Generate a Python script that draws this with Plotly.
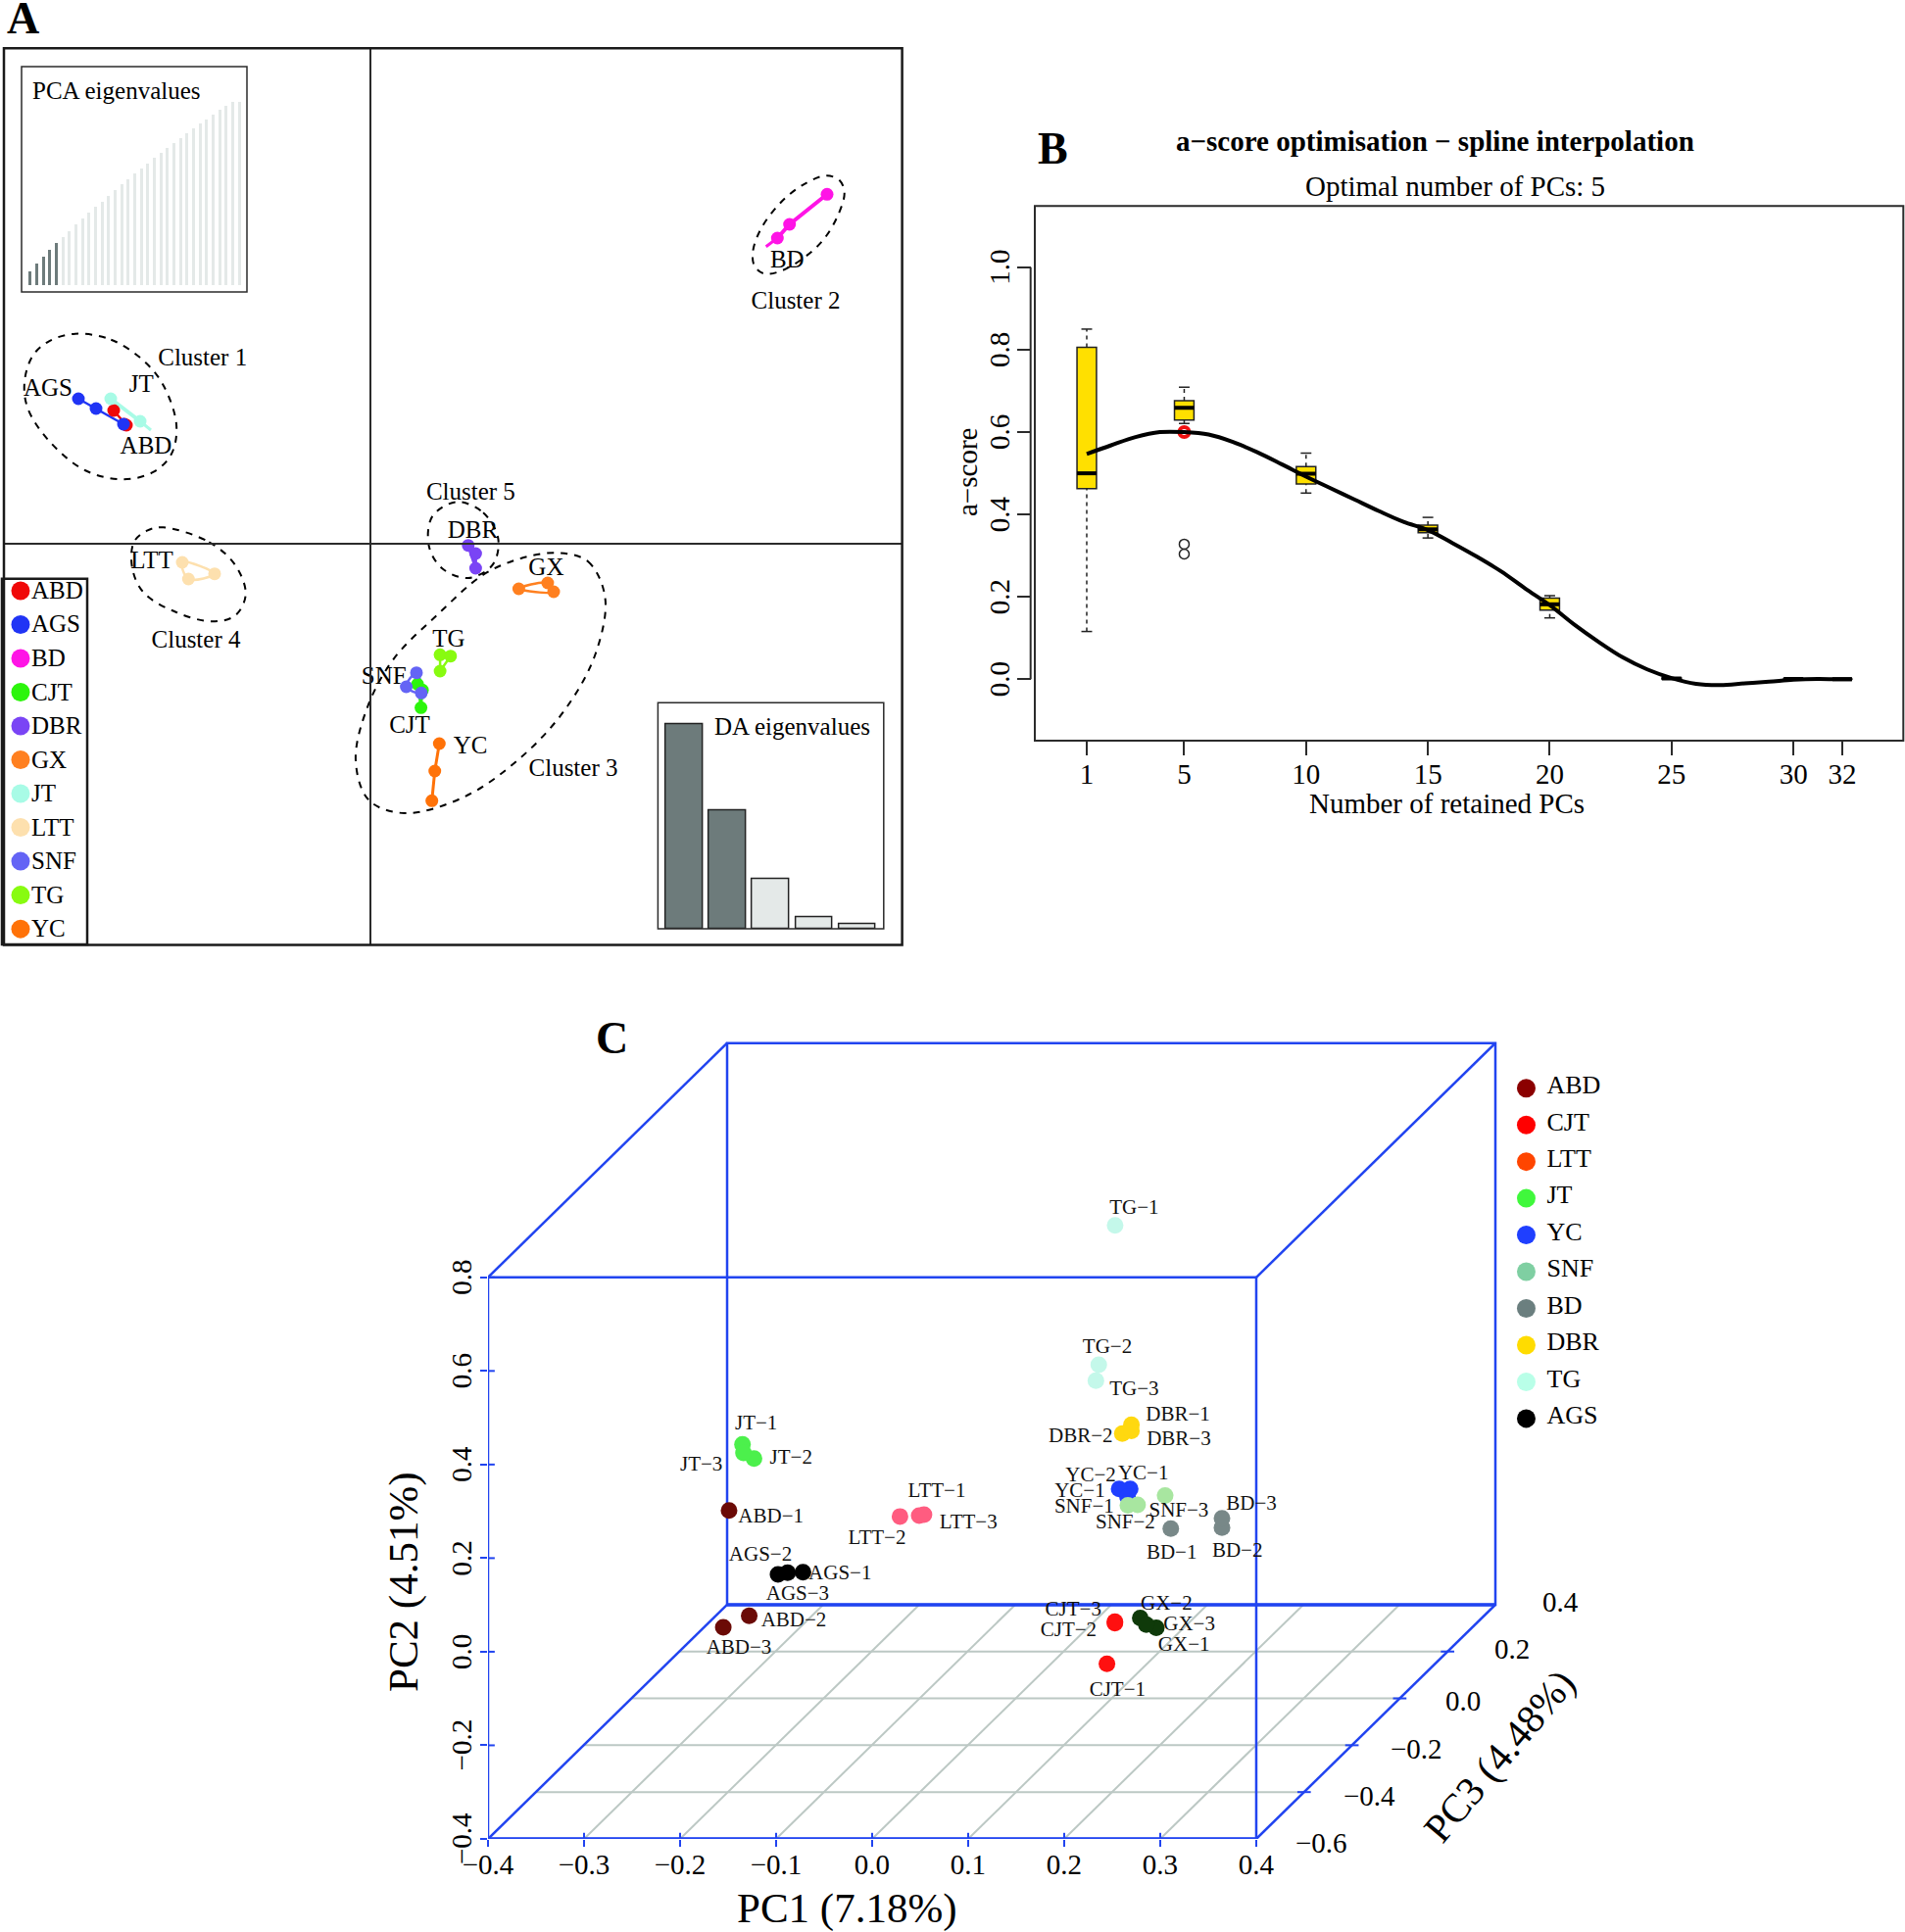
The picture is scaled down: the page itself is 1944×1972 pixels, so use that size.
import plotly.graph_objects as go

W, H = 1944, 1972
SERIF = "Liberation Serif"
BLUE = "#2144f0"
GRID = "#bcc8c4"
DARK = "#2b2b2b"

# ---------- Panel A: DAPC scatter ----------
a_groups = ["ABD", "AGS", "BD", "CJT", "DBR", "GX", "JT", "LTT", "SNF", "TG", "YC"]
a_colors = ["#f00808", "#2034f5", "#ff14e6", "#2cf50c", "#7a44f5", "#ff8020",
            "#a8fbe6", "#fde0ae", "#6464f5", "#88fb10", "#ff7208"]
abd_x = [-26.2, -24.9, -25.1]; abd_y = [13.6, 12.1, 12.2]
ags_x = [-29.8, -28.0, -25.2]; ags_y = [14.8, 13.8, 12.2]
bd_x = [46.6, 42.77, 41.53]; bd_y = [35.67, 32.6, 31.2]
cjt_x = [4.81, 5.31, 5.16]; cjt_y = [-14.33, -14.93, -16.73]
dbr_x = [9.98, 10.74, 10.74]; dbr_y = [-0.17, -1.0, -2.5]
gx_x = [15.14, 18.09, 18.7]; gx_y = [-4.6, -4.0, -4.9]
jt_x = [-26.5, -23.5]; jt_y = [14.8, 12.5]
ltt_x = [-19.2, -15.9, -18.57]; ltt_y = [-1.9, -3.07, -3.6]
snf_x = [4.7, 3.66, 5.19]; snf_y = [-13.17, -14.6, -15.23]
tg_x = [7.11, 8.18, 7.11]; tg_y = [-11.33, -11.47, -13.0]
yc_x = [7.03, 6.57, 6.27]; yc_y = [-20.4, -23.2, -26.23]
a_pts = [(abd_x, abd_y), (ags_x, ags_y), (bd_x, bd_y), (cjt_x, cjt_y), (dbr_x, dbr_y), (gx_x, gx_y),
         (jt_x, jt_y), (ltt_x, ltt_y), (snf_x, snf_y), (tg_x, tg_y), (yc_x, yc_y)]
a_line_w = {"BD": 4, "JT": 4, "YC": 3, "DBR": 3}
jt_tail_x = [-23.5, -22.4]; jt_tail_y = [12.5, 11.6]
bd_tail_x = [41.53, 40.37]; bd_tail_y = [31.2, 30.33]

c1_x = [-30.13, -26.47, -23.13, -21.13, -19.8, -20.3, -22.13, -25.3, -29.13, -32.8, -34.97, -35.3, -34.47, -32.8, -30.13]
c1_y = [21.43, 20.83, 18.67, 16.17, 12.17, 9.17, 7.33, 6.57, 7.5, 10.5, 13.83, 16.5, 19.17, 20.67, 21.43]
c2_x = [46.53, 47.87, 48.37, 47.7, 46.2, 44.2, 41.87, 40.2, 39.2, 39.03, 39.87, 41.87, 44.2, 46.53]
c2_y = [37.57, 37.1, 35.83, 33.5, 31, 29.17, 27.83, 27.57, 28.33, 29.83, 32.17, 34.83, 36.67, 37.57]
c3_x = [19.16, 22.22, 23.95, 22.99, 19.93, 15.34, 9.59, 3.47, -0.16, -1.5, -0.36, 2.32, 6.92, 11.51, 15.34, 19.16]
c3_y = [-0.93, -1.83, -5.5, -11.17, -16.83, -21.83, -25.83, -27.5, -26.17, -22.17, -16.83, -11.83, -7.17, -3.17, -1.5, -0.93]
c4_x = [-21.13, -16.47, -13.8, -12.73, -13.8, -16.13, -19.8, -23.13, -24.3, -24.13, -22.8, -21.13]
c4_y = [1.67, 0.17, -2.17, -5.17, -7.33, -7.93, -7, -5, -2.5, 0.17, 1.33, 1.67]
c5_x = [8.83, 11.51, 13.04, 12.46, 9.98, 7.3, 5.96, 6.34, 8.83]
c5_y = [4.27, 3.17, 0.5, -2.17, -3.5, -2.5, -0.17, 2.83, 4.27]

a_text = ["Cluster 1", "AGS", "JT", "ABD", "Cluster 2", "BD", "Cluster 5", "DBR", "GX", "TG", "SNF", "CJT", "YC",
          "Cluster 3", "LTT", "Cluster 4"]
a_text_x = [-17.13, -32.9, -23.37, -22.9, 43.4, 42.53, 10.24, 10.44, 17.94, 7.99, 1.37, 4.0, 10.2, 20.7, -22.3, -17.8]
a_text_y = [18.85, 15.75, 16.08, 9.82, 24.65, 28.85, 5.15, 1.25, -2.58, -9.92, -13.68, -18.65, -20.75, -23.08, -1.92, -9.98]

pca_eigen = [7.1, 11.4, 15.5, 19.1, 22.7, 25.9, 29.5, 32.9, 36.1, 39.3, 42.5, 45.5, 48.6, 51.8, 54.8, 57.9, 60.7,
             63.6, 66.4, 69.3, 72.1, 75, 77.7, 80.4, 83, 85.5, 88.2, 90.5, 93, 95.5, 98, 100, 100]
pca_retained = 5
da_eigen = [62.7, 36.3, 15.3, 3.5, 1.5]
da_retained = 2
BAR_DARK = "#6d7b7b"
BAR_LIGHT = "#e4e9e8"

# ---------- Panel B: a-score ----------
box_x = [1, 5, 10, 15, 20, 25, 30, 32]
box_low = [0.116, 0.621, 0.452, 0.343, 0.149, 0.0, 0.0, 0.0]
box_q1 = [0.463, 0.629, 0.474, 0.356, 0.168, 0.001, 0.0, 0.0]
box_med = [0.50, 0.659, 0.499, 0.364, 0.182, 0.002, 0.001, 0.0]
box_q3 = [0.806, 0.676, 0.516, 0.374, 0.197, 0.003, 0.002, 0.001]
box_up = [0.85, 0.709, 0.549, 0.393, 0.203, 0.004, 0.002, 0.001]
out_x = [5, 5]
out_y = [0.328, 0.304]
spline_x = [1, 2, 3, 4, 5, 6, 7, 8, 9, 10, 11, 12, 13, 14, 15, 16, 17, 18, 19, 20, 21, 22, 23, 24, 25, 26, 27, 28, 29,
            30, 31, 32, 32.4]
spline_y = [0.547, 0.568, 0.588, 0.60, 0.60, 0.594, 0.576, 0.551, 0.522, 0.492, 0.464, 0.436, 0.408, 0.382, 0.362,
            0.331, 0.298, 0.262, 0.220, 0.180, 0.133, 0.091, 0.053, 0.024, 0.003, -0.011, -0.014, -0.010, -0.006,
            -0.001, 0.001, 0.0, 0.0]
best_x = [5]; best_y = [0.60]
b_xticks = [1, 5, 10, 15, 20, 25, 30, 32]
b_yticks = [0.0, 0.2, 0.4, 0.6, 0.8, 1.0]

# ---------- Panel C: oblique 3-D scatter (screen plane values, in PC1 / PC2 units) ----------
c_groups = ["ABD", "CJT", "LTT", "JT", "YC", "SNF", "BD", "DBR", "TG", "AGS", "GX"]
c_colors = ["#6b0a06", "#ff1010", "#ff5c80", "#4cf04c", "#1f3fff", "#a8e6a0", "#788888", "#ffd810", "#c4f8ea",
            "#000000", "#0f3a0a"]
p_abd = ([-0.149, -0.128, -0.155], [0.302, 0.077, 0.052])
p_cjt = ([0.2445, 0.2528, 0.2528], [-0.026, 0.061, 0.064])
p_ltt = ([0.049, 0.029, 0.054], [0.291, 0.289, 0.293])
p_jt = ([-0.135, -0.123, -0.134], [0.443, 0.413, 0.425])
p_yc = ([0.2687, 0.2572, 0.2659], [0.348, 0.348, 0.331])
p_snf = ([0.2663, 0.2764, 0.3051], [0.313, 0.314, 0.334])
p_bd = ([0.311, 0.3643, 0.3643], [0.263, 0.265, 0.285])
p_dbr = ([0.270, 0.2605, 0.270], [0.485, 0.466, 0.472])
p_tg = ([0.253, 0.236, 0.233], [0.911, 0.613, 0.579])
p_ags = ([-0.072, -0.088, -0.098], [0.170, 0.169, 0.165])
p_gx = ([0.2959, 0.2792, 0.2855], [0.051, 0.072, 0.058])
c_pts = [p_abd, p_cjt, p_ltt, p_jt, p_yc, p_snf, p_bd, p_dbr, p_tg, p_ags, p_gx]

c_lab = ["TG−1", "TG−2", "TG−3", "DBR−1", "DBR−3", "DBR−2", "YC−2", "YC−1", "YC−1", "SNF−1", "SNF−3", "SNF−2",
         "BD−3", "BD−1", "BD−2", "CJT−3", "CJT−2", "CJT−1", "GX−2", "GX−3", "GX−1", "JT−1", "JT−2", "JT−3",
         "ABD−1", "LTT−1", "LTT−3", "LTT−2", "AGS−2", "AGS−1", "AGS−3", "ABD−2", "ABD−3"]
c_lab_x = [.2728, .2449, .2728, .3184, .3193, .2172, .2276, .2823, .2163, .2208, .3193, .2637, .3949, .3119, .3803,
           .2095, .2045, .2555, .3065, .3302, .3247, -.1207, -.0844, -.1779, -.1054, .0673, .1003, .0051, -.1163,
           -.0334, -.0776, -.0816, -.1388]
c_lab_y = [.947, .650, .560, .504, .453, .459, .375, .379, .341, .308, .300, .274, .314, .209, .213, .089, .045,
           -.083, .100, .057, .013, .487, .412, .398, .288, .341, .274, .241, .206, .165, .122, .066, .007]

pc1_ticks = [-0.4, -0.3, -0.2, -0.1, 0.0, 0.1, 0.2, 0.3, 0.4]
pc2_ticks = [-0.4, -0.2, 0.0, 0.2, 0.4, 0.6, 0.8]
pc3_ticks = [-0.6, -0.4, -0.2, 0.0, 0.2, 0.4]
pc3_lab = ["−0.6", "−0.4", "−0.2", "0.0", "0.2", "0.4"]
pc3_lab_x = [.4679, .5178, .5668, .6156, .6666, .7165]
pc3_lab_y = [-.409, -.307, -.2065, -.1053, .0071, .1062]
# depth offset of the box along PC3 (screen shift of the back wall)
DEPTH_X, DEPTH_Y = 0.249, 0.5005

c_leg = ["ABD", "CJT", "LTT", "JT", "YC", "SNF", "BD", "DBR", "TG", "AGS"]
c_leg_colors = ["#8b0000", "#ff0000", "#ff4500", "#40f83c", "#1f3fff", "#7fcfa2", "#6b7f7f", "#ffdc00", "#b9ffe8",
                "#000000"]

# Panel C axis placement (pixels of the page) and ranges
C_LEFT, C_RIGHT, C_TOP, C_BOTTOM = 498, 1800, 1050, 1877
C_XR = [-0.4, 0.9286]
C_YR = [-0.4, 1.3313]


def dom_x(a, b):
    return [a / W, b / W]


def dom_y(top, bottom):
    return [1 - bottom / H, 1 - top / H]


def c_px(x, y):
    """Position on the page of a point of panel C's plane (for a text lying just past the axis range)."""
    px = C_LEFT + (x - C_XR[0]) / (C_XR[1] - C_XR[0]) * (C_RIGHT - C_LEFT)
    py = C_BOTTOM - (y - C_YR[0]) / (C_YR[1] - C_YR[0]) * (C_BOTTOM - C_TOP)
    return px, py


fig = go.Figure()
shapes = []
ann = []


def txt(x, y, s, size=24, angle=0, xref="paper", yref="paper", color="black"):
    if xref == "paper":
        x = x / W
    if yref == "paper":
        y = 1 - y / H
    ann.append(dict(x=x, y=y, text=s, xref=xref, yref=yref, showarrow=False, textangle=angle,
                    xanchor="center", yanchor="middle", font=dict(family=SERIF, size=size, color=color)))


def frame(ax, width=2, color=DARK):
    shapes.append(dict(type="rect", xref=f"{ax} domain", yref=f"{ax.replace('x', 'y')} domain",
                       x0=0, x1=1, y0=0, y1=1, line=dict(color=color, width=width), layer="above"))


# ---- A main
for (xs, ys), col, name in zip(a_pts, a_colors, a_groups):
    closed = name in ("GX", "LTT", "SNF", "CJT", "TG", "DBR")
    lx = xs + [xs[0]] if closed else xs
    ly = ys + [ys[0]] if closed else ys
    fig.add_trace(go.Scatter(x=lx, y=ly, mode="lines", xaxis="x", yaxis="y", showlegend=False,
                             line=dict(color=col, width=a_line_w.get(name, 2.5),
                                       shape="spline" if name in ("GX", "LTT", "SNF") else "linear")))
for tx, ty, col in [(jt_tail_x, jt_tail_y, a_colors[6]), (bd_tail_x, bd_tail_y, a_colors[2])]:
    fig.add_trace(go.Scatter(x=tx, y=ty, mode="lines", xaxis="x", yaxis="y", showlegend=False,
                             line=dict(color=col, width=3)))
for (xs, ys), col, name in zip(a_pts, a_colors, a_groups):
    fig.add_trace(go.Scatter(x=xs, y=ys, mode="markers", xaxis="x", yaxis="y", name=name, showlegend=False,
                             marker=dict(color=col, size=13)))
for ex, ey in [(c1_x, c1_y), (c2_x, c2_y), (c3_x, c3_y), (c4_x, c4_y), (c5_x, c5_y)]:
    fig.add_trace(go.Scatter(x=ex, y=ey, mode="lines", xaxis="x", yaxis="y", showlegend=False,
                             line=dict(color="black", width=2, dash="7px,7px", shape="spline")))
fig.add_trace(go.Scatter(x=a_text_x, y=a_text_y, text=a_text, mode="text", xaxis="x", yaxis="y", showlegend=False,
                         textposition="middle center", textfont=dict(family=SERIF, size=25, color="black")))
shapes.append(dict(type="line", xref="x", yref="y domain", x0=0, x1=0, y0=0, y1=1, line=dict(color=DARK, width=2)))
shapes.append(dict(type="line", xref="x domain", yref="y", x0=0, x1=1, y0=0, y1=0, line=dict(color=DARK, width=2)))
frame("x", 2.5, "#1a1a1a")

# ---- PCA inset
pca_idx = list(range(1, len(pca_eigen) + 1))
fig.add_trace(go.Bar(x=pca_idx, y=pca_eigen, xaxis="x2", yaxis="y2", showlegend=False, width=0.45,
                     marker=dict(color=[BAR_DARK if i <= pca_retained else BAR_LIGHT for i in pca_idx], line_width=0)))
frame("x2", 1.5)
txt(118.7, 92, "PCA eigenvalues", 25)

# ---- DA inset
da_idx = list(range(1, len(da_eigen) + 1))
fig.add_trace(go.Bar(x=da_idx, y=da_eigen, xaxis="x3", yaxis="y3", showlegend=False, width=0.85,
                     marker=dict(color=[BAR_DARK if i <= da_retained else BAR_LIGHT for i in da_idx],
                                 line=dict(color="#222222", width=1.5))))
frame("x3", 1.5)
txt(808.8, 741.7, "DA eigenvalues", 25)

# ---- A legend
leg_idx = list(range(len(a_groups)))
fig.add_trace(go.Scatter(x=[0.218] * len(a_groups), y=leg_idx, mode="markers", xaxis="x4", yaxis="y4", showlegend=False,
                         marker=dict(color=a_colors, size=19)))
fig.add_trace(go.Scatter(x=[0.345] * len(a_groups), y=[i + 0.05 for i in leg_idx], text=a_groups, mode="text",
                         xaxis="x4", yaxis="y4", showlegend=False, textposition="middle right",
                         textfont=dict(family=SERIF, size=25, color="black")))
frame("x4", 2.5, "#1a1a1a")

# ---- B
fig.add_trace(go.Box(x=box_x, q1=box_q1, median=box_med, q3=box_q3, lowerfence=box_q1, upperfence=box_q3,
                     xaxis="x5", yaxis="y5", width=0.8, fillcolor="#ffe000", showlegend=False, boxpoints=False,
                     line=dict(color="#222222", width=1.5), whiskerwidth=0))
wx, wy, cx, cy, mx, my = [], [], [], [], [], []
CAP = 0.22
for x, lo, q1, m, q3, up in zip(box_x, box_low, box_q1, box_med, box_q3, box_up):
    wx += [x, x, None, x, x, None]
    wy += [lo, q1, None, q3, up, None]
    cx += [x - CAP, x + CAP, None, x - CAP, x + CAP, None]
    cy += [lo, lo, None, up, up, None]
    mx += [x - 0.4, x + 0.4, None]
    my += [m, m, None]
fig.add_trace(go.Scatter(x=wx[:30], y=wy[:30], mode="lines", xaxis="x5", yaxis="y5", showlegend=False,
                         line=dict(color="#222222", width=1.5, dash="4px,4px")))
fig.add_trace(go.Scatter(x=cx[:30], y=cy[:30], mode="lines", xaxis="x5", yaxis="y5", showlegend=False,
                         line=dict(color="#222222", width=1.5)))
fig.add_trace(go.Scatter(x=mx, y=my, mode="lines", xaxis="x5", yaxis="y5", showlegend=False,
                         line=dict(color="black", width=4)))
fig.add_trace(go.Scatter(x=out_x, y=out_y, mode="markers", xaxis="x5", yaxis="y5", showlegend=False,
                         marker=dict(symbol="circle-open", size=10, color="#222222", line=dict(width=1.5))))
fig.add_trace(go.Scatter(x=best_x, y=best_y, mode="markers", xaxis="x5", yaxis="y5", showlegend=False,
                         marker=dict(symbol="circle-open", size=10, color="#f01010", line=dict(width=4))))
fig.add_trace(go.Scatter(x=spline_x, y=spline_y, mode="lines", xaxis="x5", yaxis="y5", showlegend=False,
                         line=dict(color="black", width=4, shape="spline")))
frame("x5", 2)
shapes.append(dict(type="line", xref="paper", yref="y5", x0=1051.7 / W, x1=1051.7 / W, y0=0, y1=1,
                   line=dict(color=DARK, width=2)))
txt(1464, 144, "<b>a−score optimisation − spline interpolation</b>", 29)
txt(1485, 190, "Optimal number of PCs: 5", 29)
txt(987, 482, "a−score", 29, -90)
txt(1476, 820, "Number of retained PCs", 29)
for v in b_yticks:
    txt(1020, v, f"{v:.1f}", 29, -90, yref="y5")

# ---- C box + grid
L, R, B, T = pc1_ticks[0], pc1_ticks[-1], pc2_ticks[0], pc2_ticks[-1]
span = pc3_ticks[-1] - pc3_ticks[0]


def depth(pc3):
    f = (pc3 - pc3_ticks[0]) / span
    return DEPTH_X * f, DEPTH_Y * f


gx, gy = [], []
for v in pc3_ticks[1:-1]:
    dx, dy = depth(v)
    gx += [L + dx, R + dx, None]
    gy += [B + dy, B + dy, None]
dx, dy = depth(pc3_ticks[-1])
for v in pc1_ticks[1:-1]:
    gx += [v, v + dx, None]
    gy += [B, B + dy, None]
fig.add_trace(go.Scatter(x=gx, y=gy, mode="lines", xaxis="x6", yaxis="y6", showlegend=False,
                         line=dict(color=GRID, width=2)))

bx = [L, R, R, L, L, None,
      L + dx, R + dx, R + dx, L + dx, L + dx, None,
      L, L + dx, None, R, R + dx, None, R, R + dx, None, L, L + dx]
by = [B, B, T, T, B, None,
      B + dy, B + dy, T + dy, T + dy, B + dy, None,
      B, B + dy, None, B, B + dy, None, T, T + dy, None, T, T + dy]
fig.add_trace(go.Scatter(x=bx, y=by, mode="lines", xaxis="x6", yaxis="y6", showlegend=False, cliponaxis=False,
                         line=dict(color=BLUE, width=2.5)))
fig.add_trace(go.Scatter(x=[L, R, None, L + dx, R + dx], y=[B, B, None, B + dy, B + dy], mode="lines",
                         xaxis="x6", yaxis="y6", showlegend=False, cliponaxis=False,
                         line=dict(color=BLUE, width=3.5)))
tx, ty = [], []
for v in pc3_ticks[1:-1]:
    ddx, ddy = depth(v)
    tx += [R + ddx - 0.007, R + ddx + 0.007, None]
    ty += [B + ddy, B + ddy, None]
for v in pc1_ticks:
    tx += [v, v, None]
    ty += [B, B + 0.013, None]
for v in pc2_ticks:
    tx += [L, L + 0.007, None]
    ty += [v, v, None]
fig.add_trace(go.Scatter(x=tx, y=ty, mode="lines", xaxis="x6", yaxis="y6", showlegend=False, cliponaxis=False,
                         line=dict(color=BLUE, width=2)))

for (xs, ys), col, name in zip(c_pts, c_colors, c_groups):
    fig.add_trace(go.Scatter(x=xs, y=ys, mode="markers", xaxis="x6", yaxis="y6", name=name, showlegend=False,
                             cliponaxis=False, marker=dict(color=col, size=17)))
fig.add_trace(go.Scatter(x=c_lab_x, y=c_lab_y, text=c_lab, mode="text", xaxis="x6", yaxis="y6", showlegend=False,
                         cliponaxis=False, textposition="middle center",
                         textfont=dict(family=SERIF, size=21, color="#111111")))
for s, lx, ly in zip(pc3_lab, pc3_lab_x, pc3_lab_y):
    if ly < C_YR[0]:
        px, py = c_px(lx, ly)
        txt(px, py, s, 29)
    else:
        txt(lx, ly, s, 29, 0, xref="x6", yref="y6")
for v in pc2_ticks:
    txt(471, v, f"{v:.1f}".replace("-", "−"), 29, -90, yref="y6")
txt(864, 1948, "PC1 (7.18%)", 43)
txt(412, 1615, "PC2 (4.51%)", 43, -90)
txt(1530, 1792, "PC3 (4.48%)", 41, -50)

# ---- C legend
cleg_idx = list(range(len(c_leg)))
fig.add_trace(go.Scatter(x=[0.155] * len(c_leg), y=cleg_idx, mode="markers", xaxis="x7", yaxis="y7", showlegend=False,
                         cliponaxis=False, marker=dict(color=c_leg_colors, size=19)))
fig.add_trace(go.Scatter(x=[0.30] * len(c_leg), y=[i - 0.03 for i in cleg_idx], text=c_leg, mode="text", xaxis="x7",
                         yaxis="y7", showlegend=False, textposition="middle right",
                         textfont=dict(family=SERIF, size=26, color="black")))

txt(23, 19, "<b>A</b>", 46)
txt(1074, 152, "<b>B</b>", 46)
txt(624, 1059, "<b>C</b>", 46)

hidden = dict(visible=False, showgrid=False, zeroline=False)
fig.update_layout(
    width=W, height=H, margin=dict(l=0, r=0, t=0, b=0, autoexpand=False), autosize=False,
    paper_bgcolor="white", plot_bgcolor="rgba(0,0,0,0)", showlegend=False, bargap=0,
    shapes=shapes, annotations=ann,
    xaxis=dict(domain=dom_x(4, 920.6), range=[-37.4, 54.26], anchor="y", **hidden),
    yaxis=dict(domain=dom_y(49.3, 964.5), range=[-40.95, 50.57], anchor="x", **hidden),
    xaxis2=dict(domain=dom_x(22, 252), range=[-0.304, 34.18], anchor="y2", **hidden),
    yaxis2=dict(domain=dom_y(68, 298), range=[-3.9, 119.3], anchor="x2", **hidden),
    xaxis3=dict(domain=dom_x(671.4, 901.8), range=[0.388, 5.612], anchor="y3", **hidden),
    yaxis3=dict(domain=dom_y(717.3, 948), range=[0, 69.2], anchor="x3", **hidden),
    xaxis4=dict(domain=dom_x(2, 89), range=[0, 1], anchor="y4", **hidden),
    yaxis4=dict(domain=dom_y(590.7, 964), range=[10.46, -0.357], anchor="x4", **hidden),
    xaxis5=dict(domain=dom_x(1056, 1942.3), range=[-1.131, 34.51], anchor="y5", showgrid=False, zeroline=False,
                tickmode="array", tickvals=b_xticks, ticks="outside", ticklen=14, tickwidth=1.5, tickcolor=DARK,
                showline=False, tickfont=dict(family=SERIF, size=29, color="black"), ticklabelstandoff=-6),
    yaxis5=dict(domain=dom_y(210.2, 756), range=[-0.149, 1.149], anchor="free", position=1051.7 / W, showgrid=False,
                zeroline=False, tickmode="array", tickvals=b_yticks, ticks="outside", ticklen=14,
                tickwidth=1.5, tickcolor=DARK, showline=False, showticklabels=False),
    xaxis6=dict(domain=dom_x(C_LEFT, C_RIGHT), range=C_XR, anchor="y6", showgrid=False, zeroline=False,
                tickmode="array", tickvals=pc1_ticks, tickformat=".1f", ticks="outside", ticklen=7, tickwidth=2,
                tickcolor=BLUE, showline=False, tickfont=dict(family=SERIF, size=29, color="black"),
                ticklabelstandoff=-7),
    yaxis6=dict(domain=dom_y(C_TOP, C_BOTTOM), range=C_YR, anchor="x6", showgrid=False, zeroline=False,
                tickmode="array", tickvals=pc2_ticks, ticks="outside", ticklen=7, tickwidth=2,
                tickcolor=BLUE, showline=False, showticklabels=False),
    xaxis7=dict(domain=dom_x(1535, 1680), range=[0, 1], anchor="y7", **hidden),
    yaxis7=dict(domain=dom_y(1090, 1470), range=[9.59, -0.553], anchor="x7", **hidden),
)

fig.write_html("out.html", post_script="document.body.style.margin='0';", config={"displayModeBar": False})
